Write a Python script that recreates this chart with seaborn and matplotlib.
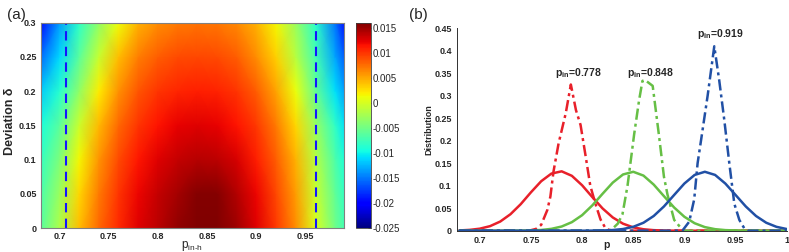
import numpy as np
import pandas as pd
import matplotlib
matplotlib.use("Agg")
import matplotlib.pyplot as plt
import seaborn as sns

# ---------------- panel (a): values ----------------
p_grid = [0.68, 0.70, 0.72, 0.74, 0.76, 0.78, 0.80, 0.82, 0.84, 0.86,
          0.88, 0.90, 0.92, 0.94, 0.96, 0.98, 0.99]
delta_grid = [0.00, 0.05, 0.10, 0.15, 0.20, 0.25, 0.30]
dev_000 = [-0.0065, -0.0020, 0.0040, 0.0078, 0.0105, 0.0125, 0.0138, 0.0152, 0.0163, 0.0162,
           0.0148, 0.0125, 0.0098, 0.0062, 0.0003, -0.0050, -0.0075]
dev_005 = [-0.0072, -0.0030, 0.0030, 0.0070, 0.0100, 0.0120, 0.0135, 0.0147, 0.0158, 0.0157,
           0.0142, 0.0120, 0.0092, 0.0055, -0.0005, -0.0058, -0.0082]
dev_010 = [-0.0082, -0.0045, 0.0015, 0.0058, 0.0090, 0.0112, 0.0126, 0.0135, 0.0140, 0.0138,
           0.0128, 0.0110, 0.0082, 0.0045, -0.0015, -0.0068, -0.0092]
dev_015 = [-0.0095, -0.0062, -0.0005, 0.0042, 0.0078, 0.0100, 0.0115, 0.0122, 0.0125, 0.0123,
           0.0115, 0.0098, 0.0070, 0.0030, -0.0030, -0.0082, -0.0108]
dev_020 = [-0.0118, -0.0088, -0.0035, 0.0020, 0.0060, 0.0085, 0.0100, 0.0107, 0.0110, 0.0108,
           0.0100, 0.0082, 0.0052, 0.0010, -0.0055, -0.0108, -0.0135]
dev_025 = [-0.0158, -0.0112, -0.0062, -0.0008, 0.0040, 0.0068, 0.0082, 0.0090, 0.0092, 0.0090,
           0.0082, 0.0062, 0.0032, -0.0015, -0.0072, -0.0132, -0.0162]
dev_030 = [-0.0205, -0.0135, -0.0085, -0.0035, 0.0012, 0.0045, 0.0062, 0.0070, 0.0073, 0.0071,
           0.0063, 0.0045, 0.0015, -0.0030, -0.0085, -0.0152, -0.0195]
boundary_p = [0.707, 0.961]
a_xticks = [0.7, 0.75, 0.8, 0.85, 0.9, 0.95]
a_xticklabels = ["0.7", "0.75", "0.8", "0.85", "0.9", "0.95"]
a_yticks = [0, 0.05, 0.1, 0.15, 0.2, 0.25, 0.3]
a_yticklabels = ["0", "0.05", "0.1", "0.15", "0.2", "0.25", "0.3"]
cbar_ticks = [0.015, 0.01, 0.005, 0, -0.005, -0.01, -0.015, -0.02, -0.025]
cbar_labels = ["0.015", "0.01", "0.005", "0", "-0.005", "-0.01", "-0.015", "-0.02", "-0.025"]

# ---------------- panel (b): distributions ----------------
p_solid = [0.68, 0.69, 0.70, 0.71, 0.72, 0.73, 0.74, 0.75, 0.76, 0.77, 0.78,
           0.79, 0.80, 0.81, 0.82, 0.83, 0.84, 0.85, 0.86, 0.87, 0.88, 0.89,
           0.90, 0.91, 0.92, 0.93, 0.94, 0.95, 0.96, 0.97, 0.98, 0.99, 1.00]
red_solid = [0.0006, 0.0018, 0.0045, 0.0101, 0.0204, 0.0367, 0.0590, 0.0854, 0.1100, 0.1270, 0.1320,
             0.1220, 0.1010, 0.0747, 0.0495, 0.0294, 0.0156, 0.0074, 0.0032, 0.0012, 0.0004, 0.0001,
             0, 0, 0, 0, 0, 0, 0, 0, 0, 0, 0]
green_solid = [0, 0, 0, 0, 0, 0.0001, 0.0002, 0.0006, 0.0016, 0.0041, 0.0093,
               0.0190, 0.0345, 0.0563, 0.0821, 0.1070, 0.1250, 0.1310, 0.1225, 0.1025, 0.0768, 0.0515,
               0.0309, 0.0166, 0.0080, 0.0034, 0.0013, 0.0005, 0.0001, 0, 0, 0, 0]
blue_solid = [0, 0, 0, 0, 0, 0, 0, 0, 0, 0, 0,
              0, 0.0000, 0.0002, 0.0005, 0.0015, 0.0037, 0.0086, 0.0177, 0.0327, 0.0539, 0.0795,
              0.1049, 0.1240, 0.1310, 0.1240, 0.1049, 0.0795, 0.0539, 0.0327, 0.0177, 0.0086, 0.0037]

p_red_dd = [0.68, 0.748, 0.755, 0.760, 0.766, 0.769, 0.772, 0.777, 0.784, 0.789, 0.794,
            0.7985, 0.8035, 0.808, 0.813, 0.818, 0.823, 0.828, 1.00]
red_dd = [0, 0, 0.004, 0.013, 0.046, 0.076, 0.131, 0.194, 0.261, 0.325, 0.268,
          0.235, 0.165, 0.100, 0.060, 0.025, 0.005, 0, 0]
p_green_dd = [0.68, 0.826, 0.830, 0.835, 0.8395, 0.8444, 0.8508, 0.8557, 0.859, 0.8615,
              0.869, 0.8753, 0.880, 0.8835, 0.890, 0.8966, 0.900, 1.00]
green_dd = [0, 0, 0.005, 0.016, 0.037, 0.100, 0.213, 0.290, 0.333, 0.335,
            0.322, 0.209, 0.120, 0.080, 0.024, 0.006, 0, 0]
p_blue_dd = [0.68, 0.898, 0.9047, 0.9096, 0.9129, 0.9162, 0.9227, 0.9292, 0.934, 0.939,
             0.9439, 0.9488, 0.9537, 0.9586, 0.962, 1.00]
blue_dd = [0, 0, 0.020, 0.070, 0.150, 0.200, 0.300, 0.410, 0.335, 0.246,
           0.150, 0.060, 0.024, 0.005, 0, 0]

label_text = ["0.778", "0.848", "0.919"]
label_x = [0.7966, 0.8667, 0.9348]
label_y = [0.350, 0.350, 0.437]

b_xticks = [0.7, 0.75, 0.8, 0.85, 0.9, 0.95, 1.0]
b_xticklabels = ["0.7", "0.75", "0.8", "0.85", "0.9", "0.95", "1"]
b_yticks = [0, 0.05, 0.1, 0.15, 0.2, 0.25, 0.3, 0.35, 0.4, 0.45]
b_yticklabels = ["0", "0.05", "0.1", "0.15", "0.2", "0.25", "0.3", "0.35", "0.4", "0.45"]

RED = "#e8202a"
GREEN = "#66bf45"
BLUE = "#2150a5"

sns.set_style("white")
plt.rcParams["font.family"] = ["Liberation Sans", "DejaVu Sans"]
plt.rcParams["mathtext.fontset"] = "custom"
plt.rcParams["mathtext.rm"] = "Liberation Sans"
plt.rcParams["mathtext.bf"] = "Liberation Sans:bold"
plt.rcParams["mathtext.it"] = "Liberation Sans"
plt.rcParams["axes.unicode_minus"] = False

W, H = 789, 252
fig = plt.figure(figsize=(W / 100, H / 100), dpi=100)

def fr(x0, y0, x1, y1):
    return [x0 / W, 1 - y1 / H, (x1 - x0) / W, (y1 - y0) / H]

# ---------------- panel (a) ----------------
axa = fig.add_axes(fr(40.7, 22.7, 344.0, 228.0))
Z = np.array([dev_000, dev_005, dev_010, dev_015, dev_020, dev_025, dev_030])
P, D = np.meshgrid(p_grid, delta_grid)
mesh = axa.pcolormesh(P, D, Z, cmap="jet", vmin=-0.025, vmax=0.016,
                      shading="gouraud", rasterized=True)
for bp in boundary_p:
    axa.axvline(bp, color="#1414ff", linestyle=(0, (4.5, 3)), linewidth=1.5)
axa.set_xlim(0.681, 0.989)
axa.set_ylim(0, 0.3)
axa.set_xticks(a_xticks)
axa.set_xticklabels(a_xticklabels)
axa.set_yticks(a_yticks)
axa.set_yticklabels(a_yticklabels)
axa.tick_params(direction="in", length=2, width=0.6, color="#808080",
                labelsize=6.5, pad=3)
for lab in axa.get_xticklabels() + axa.get_yticklabels():
    lab.set_fontweight("bold")
for s in axa.spines.values():
    s.set_color("#808080")
    s.set_linewidth(0.8)
axa.set_ylabel("Deviation δ", fontsize=9, fontweight="bold")
axa.yaxis.set_label_coords(-0.082, 0.52)
axa.set_xlabel(r"p$_{\mathregular{in\text{-}h}}$", fontsize=8.5)
axa.xaxis.set_label_coords(0.5, -0.052)
axa.xaxis.label.set_va("top")

cax = fig.add_axes(fr(356.0, 22.7, 371.0, 228.0))
cb = fig.colorbar(mesh, cax=cax)
cb.set_ticks(cbar_ticks)
cb.set_ticklabels(cbar_labels)
cb.outline.set_edgecolor("#404040")
cb.outline.set_linewidth(0.6)
cax.tick_params(direction="in", length=2, width=0.5, labelsize=7, pad=1)

# ---------------- panel (b) ----------------
axb = fig.add_axes(fr(457.3, 28.3, 786.7, 230.7))
df_solid = pd.DataFrame({"p": p_solid, "red": red_solid,
                         "green": green_solid, "blue": blue_solid})
dd = (0, (4.5, 1.6, 1.2, 1.6))
series = [
    (p_red_dd, red_dd, "red", RED),
    (p_green_dd, green_dd, "green", GREEN),
    (p_blue_dd, blue_dd, "blue", BLUE),
]
for pdd, vdd, name, col in series:
    sns.lineplot(x=df_solid["p"], y=df_solid[name], ax=axb, color=col,
                 linewidth=1.8, estimator=None, sort=False)
    sns.lineplot(x=pdd, y=vdd, ax=axb, color=col, linewidth=1.8,
                 estimator=None, sort=False, linestyle=dd)
for t, x, y in zip(label_text, label_x, label_y):
    axb.text(x, y, r"$\mathbf{p_{in}}$=" + t, ha="center", va="center",
             fontsize=7.5, fontweight="bold")
axb.set_xlim(0.678, 1.0)
axb.set_ylim(0, 0.45)
axb.set_xticks(b_xticks)
axb.set_xticklabels(b_xticklabels)
axb.set_yticks(b_yticks)
axb.set_yticklabels(b_yticklabels)
axb.tick_params(direction="out", length=2, width=0.6, color="#303030",
                labelsize=6.5, pad=2)
for lab in axb.get_xticklabels() + axb.get_yticklabels():
    lab.set_fontweight("bold")
sns.despine(ax=axb)
for s in ("left", "bottom"):
    axb.spines[s].set_color("#303030")
    axb.spines[s].set_linewidth(0.7)
axb.set_ylabel("Distribution", fontsize=6.5, fontweight="bold")
axb.yaxis.set_label_coords(-0.072, 0.5)
axb.set_xlabel("p", fontsize=7.5, fontweight="bold")
axb.xaxis.set_label_coords(0.452, -0.045)

fig.text(7 / W, 1 - 15 / H, "(a)", fontsize=11, va="center", ha="left")
fig.text(409 / W, 1 - 15 / H, "(b)", fontsize=11, va="center", ha="left")

fig.savefig("out.png", dpi=100)
